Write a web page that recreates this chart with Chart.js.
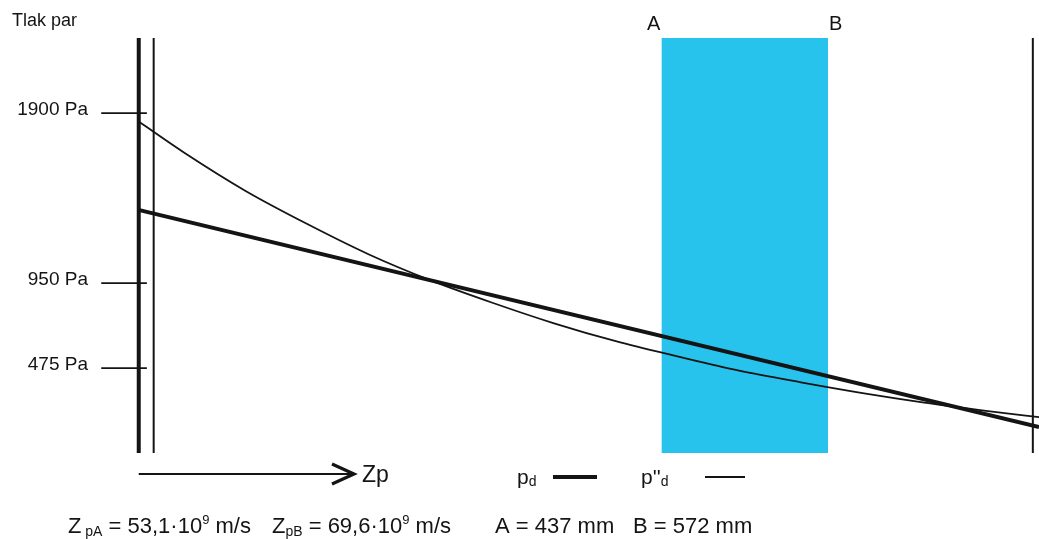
<!DOCTYPE html>
<html>
<head>
<meta charset="utf-8">
<script src="https://cdn.jsdelivr.net/npm/chart.js@4/dist/chart.umd.min.js"></script>
<style>
  html, body { margin: 0; padding: 0; background: #fff; overflow: hidden; }
</style>
</head>
<body>
<canvas id="chart" width="1039" height="539"></canvas>
<script>
// poloha v mm a tlak par v Pa
const positionsMm = [14, 50, 100, 150, 200, 250, 300, 350, 400, 450, 500, 550, 600, 650, 700, 743];
const pSatValues = [1850, 1680, 1465, 1280, 1110, 965, 840, 725, 625, 540, 460, 395, 335, 282, 236, 200];
const pdPositionsMm = [14, 743];
const pdValues = [1358, 145];
const yTickValues = [475, 950, 1900];
const layerA = 437;
const layerB = 572;
const wallPositionsMm = [13.4, 25.5, 738];

const FONT = "'Liberation Sans', Arial, sans-serif";
const X_MIN = -18, X_MAX = 743, Y_MAX = 2320;
const INK = "#141414";
const CYAN = "#27c3ec";

Chart.defaults.font.family = FONT;

function pts(xs, ys) {
  return xs.map((x, i) => ({ x: x, y: ys[i] }));
}

function vertical(x) {
  return [{ x: x, y: 0 }, { x: x, y: Y_MAX }];
}

// kreslí text s indexy (sub/sup)
function drawRuns(ctx, x, y, runs) {
  runs.forEach(r => {
    ctx.font = r.size + "px " + FONT;
    ctx.fillText(r.t, x, y + (r.dy || 0));
    x += ctx.measureText(r.t).width;
  });
}

const notes = {
  id: "notes",
  afterDraw(chart) {
    const ctx = chart.ctx;
    const xs = chart.scales.x;
    ctx.save();
    ctx.fillStyle = INK;
    ctx.strokeStyle = INK;
    ctx.textBaseline = "alphabetic";

    ctx.font = "18px " + FONT;
    ctx.fillText("Tlak par", 12, 26);

    ctx.font = "20px " + FONT;
    ctx.textAlign = "right";
    ctx.fillText("A", xs.getPixelForValue(layerA) - 1, 30);
    ctx.textAlign = "left";
    ctx.fillText("B", xs.getPixelForValue(layerB) + 1, 30);

    // šipka Zp
    ctx.lineWidth = 2;
    ctx.beginPath();
    ctx.moveTo(xs.getPixelForValue(wallPositionsMm[0]), 474);
    ctx.lineTo(352, 474);
    ctx.stroke();
    ctx.lineWidth = 3.2;
    ctx.beginPath();
    ctx.moveTo(332, 464);
    ctx.lineTo(354, 474);
    ctx.lineTo(332, 484);
    ctx.stroke();
    drawRuns(ctx, 362, 482, [{ t: "Zp", size: 23 }]);

    // legenda
    drawRuns(ctx, 517, 484, [{ t: "p", size: 21 }, { t: "d", size: 14, dy: 2 }]);
    ctx.lineWidth = 4;
    ctx.beginPath(); ctx.moveTo(553, 477); ctx.lineTo(597, 477); ctx.stroke();
    drawRuns(ctx, 641, 484, [{ t: "p''", size: 21 }, { t: "d", size: 14, dy: 2 }]);
    ctx.lineWidth = 1.8;
    ctx.beginPath(); ctx.moveTo(705, 477); ctx.lineTo(745, 477); ctx.stroke();

    // spodní řádek
    const by = 533;
    drawRuns(ctx, 68, by, [
      { t: "Z", size: 22 }, { t: " pA", size: 14, dy: 3 },
      { t: " = 53,1·10", size: 22 }, { t: "9", size: 13, dy: -9 }, { t: " m/s", size: 22 }
    ]);
    drawRuns(ctx, 272, by, [
      { t: "Z", size: 22 }, { t: "pB", size: 14, dy: 3 },
      { t: " = 69,6·10", size: 22 }, { t: "9", size: 13, dy: -9 }, { t: " m/s", size: 22 }
    ]);
    drawRuns(ctx, 495, by, [{ t: "A = " + layerA + " mm", size: 22 }]);
    drawRuns(ctx, 633, by, [{ t: "B = " + layerB + " mm", size: 22 }]);
    ctx.restore();
  }
};

const datasets = [
  {
    label: "vrstva",
    data: [{ x: layerA, y: Y_MAX }, { x: layerB, y: Y_MAX }],
    borderWidth: 0,
    backgroundColor: CYAN,
    fill: "origin",
    order: 10
  },
  {
    label: "p''d",
    data: pts(positionsMm, pSatValues),
    borderColor: INK,
    borderWidth: 1.8,
    cubicInterpolationMode: "monotone",
    order: 2
  },
  {
    label: "pd",
    data: pts(pdPositionsMm, pdValues),
    borderColor: INK,
    borderWidth: 4,
    order: 1
  }
];

wallPositionsMm.forEach((w, i) => {
  datasets.push({
    label: "stena" + i,
    data: vertical(w),
    borderColor: INK,
    borderWidth: i === 0 ? 4 : 2,
    order: 3
  });
});

yTickValues.forEach(v => {
  datasets.push({
    label: "tick" + v,
    data: [{ x: X_MIN + 1, y: v }, { x: 20, y: v }],
    borderColor: INK,
    borderWidth: 1.8,
    order: 3
  });
});

new Chart(document.getElementById("chart"), {
  type: "line",
  data: { datasets: datasets },
  options: {
    responsive: false,
    animation: false,
    devicePixelRatio: 1,
    layout: { padding: { top: 38, bottom: 86, left: 0, right: 0 } },
    elements: { point: { radius: 0 }, line: { borderCapStyle: "butt" } },
    plugins: { legend: { display: false }, tooltip: { enabled: false } },
    scales: {
      x: { type: "linear", min: X_MIN, max: X_MAX, display: false },
      y: {
        type: "linear",
        min: 0,
        max: Y_MAX,
        afterBuildTicks: (scale) => { scale.ticks = yTickValues.map(v => ({ value: v })); },
        afterFit: (scale) => { scale.width = 100; },
        grid: { display: false },
        border: { display: false },
        ticks: {
          color: INK,
          font: { size: 19 },
          padding: 4,
          labelOffset: -3,
          callback: (v) => v + " Pa"
        }
      }
    }
  },
  plugins: [notes]
});
</script>
</body>
</html>
